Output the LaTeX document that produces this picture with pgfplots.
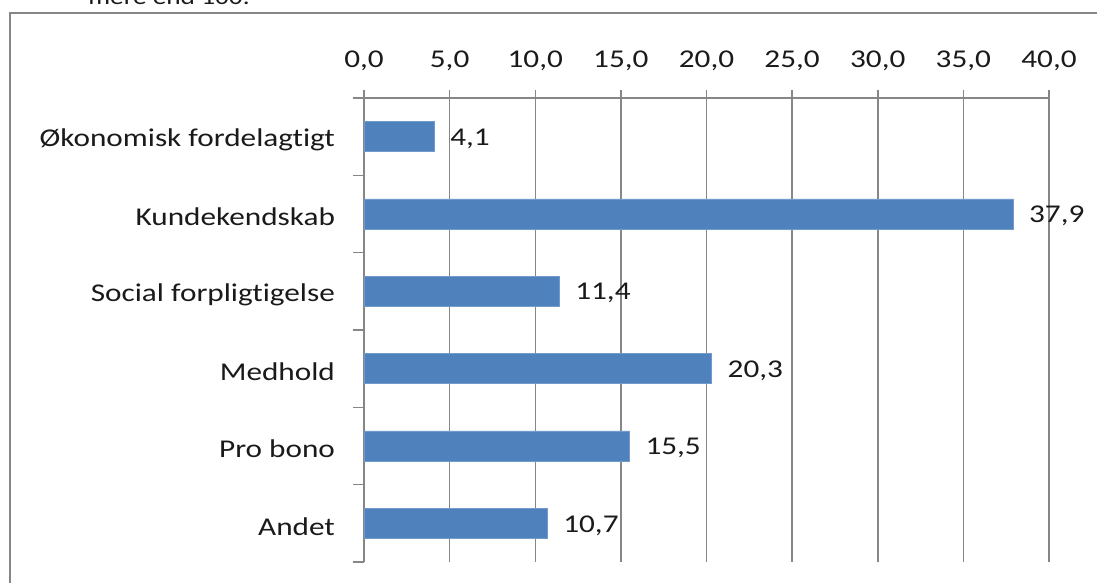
\documentclass[border=0pt]{standalone}
\usepackage{pgfplots}
\pgfplotsset{compat=1.18}
\usepackage{fontspec}
\setmainfont{Carlito}[FakeStretch=1.22, Ligatures=NoCommon]
\definecolor{barblue}{HTML}{4F81BD}
\definecolor{gridgray}{HTML}{868686}
\definecolor{txt}{HTML}{1A1A1A}
\begin{document}
\begin{tikzpicture}[x=1pt,y=1pt]
\useasboundingbox (0,0) rectangle (548.5,291.5);
\draw[gridgray, line width=1pt] (5,-20) -- (5,285) -- (560,285);
\node[anchor=base west, font=\fontsize{11.2}{13}\selectfont, text=txt, inner sep=0] at (44,289) {mere end 100.};
\begin{axis}[
  at={(182pt,10.5pt)}, anchor=south west,
  scale only axis, width=342.5pt, height=232pt,
  xmin=0, xmax=40, ymin=-0.5, ymax=5.5,
  xbar, bar width=0.39,
  axis x line=top, axis y line=left,
  axis line style={-, gridgray, line width=0.75pt},
  tick align=outside,
  xtick={0,5,...,40},
  ytick={0,...,5},
  yticklabels={Andet, Pro bono, Medhold, Social forpligtigelse, Kundekendskab, Økonomisk fordelagtigt},
  minor ytick={-0.5,0.5,...,5.5},
  major tick length=4pt, minor tick length=5.5pt,
  major y tick style={draw=none},
  minor y tick style={gridgray, line width=0.75pt},
  major x tick style={gridgray, line width=0.75pt},
  xmajorgrids, major x grid style={gridgray, line width=0.75pt},
  ticklabel style={font=\fontsize{12.8}{15}\selectfont, text=txt},
  yticklabel style={xshift=-7pt, yshift=-1.5pt},
  xticklabel style={yshift=6pt},
  /pgf/number format/.cd, fixed, fixed zerofill, precision=1, use comma, assume math mode=true,
  /pgfplots/.cd,
  nodes near coords,
  every node near coord/.append style={anchor=west, xshift=4.5pt, yshift=-1pt, font=\fontsize{12.8}{15}\selectfont, text=txt},
]
\addplot[fill=barblue, draw=barblue!80!white] coordinates {(10.7,0) (15.5,1) (20.3,2) (11.4,3) (37.9,4) (4.1,5)};
\end{axis}
\end{tikzpicture}
\end{document}
